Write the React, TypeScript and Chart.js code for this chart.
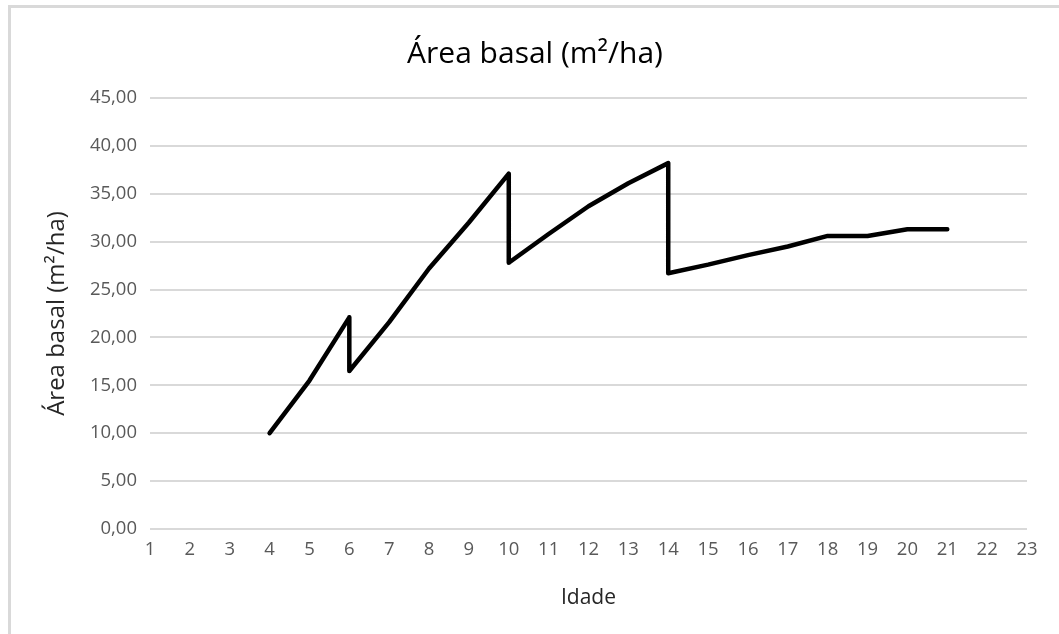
import React, { useEffect, useRef } from "react";
import { Chart, registerables } from "chart.js";

Chart.register(...registerables);

const idade = [4, 5, 6, 6, 7, 8, 9, 10, 10, 11, 12, 13, 14, 14, 15, 16, 17, 18, 19, 20, 21];
const areaBasal = [10.0, 15.5, 22.1, 16.5, 21.6, 27.2, 32.0, 37.1, 27.8, 30.8, 33.7, 36.1, 38.2, 26.7, 27.6, 28.6, 29.5, 30.6, 30.6, 31.3, 31.3];
const chartTitle = "Área basal (m²/ha)";
const xTitle = "Idade";
const yTitle = "Área basal (m²/ha)";

const FONT = "'Open Sans', sans-serif";

const centeredTitle = {
  id: "centeredTitle",
  afterDraw(chart: any) {
    const ctx = chart.ctx;
    ctx.save();
    ctx.font = `normal 30px ${FONT}`;
    ctx.fillStyle = "#000000";
    ctx.textAlign = "center";
    ctx.textBaseline = "middle";
    ctx.fillText(chartTitle, chart.width / 2, 46);
    ctx.restore();
  },
};

export default function App() {
  const ref = useRef<HTMLCanvasElement | null>(null);

  useEffect(() => {
    if (!ref.current) return;
    const chart = new Chart(ref.current, {
      type: "line",
      data: {
        datasets: [
          {
            data: idade.map((x, i) => ({ x, y: areaBasal[i] })),
            borderColor: "#000000",
            backgroundColor: "#000000",
            borderWidth: 4.5,
            borderJoinStyle: "round",
            borderCapStyle: "round",
            pointRadius: 0,
            tension: 0,
            fill: false,
          },
        ],
      },
      plugins: [centeredTitle],
      options: {
        animation: false,
        responsive: false,
        maintainAspectRatio: false,
        layout: { padding: { left: 0, right: 32, top: 90, bottom: 0 } },
        plugins: {
          legend: { display: false },
          tooltip: { enabled: false },
          title: { display: false },
        },
        scales: {
          x: {
            type: "linear",
            min: 1,
            max: 23,
            grid: { display: false, drawTicks: false },
            border: { display: false },
            ticks: {
              stepSize: 1,
              color: "#595959",
              padding: 10,
              font: { family: FONT, size: 18.5 },
            },
            title: {
              display: true,
              text: xTitle,
              color: "#262626",
              font: { family: FONT, size: 21 },
              padding: { top: 0, bottom: 23 },
            },
            afterFit: (s: any) => {
              s.height = 105;
            },
          },
          y: {
            type: "linear",
            min: 0,
            max: 45,
            grid: { color: "#d9d9d9", lineWidth: 2, drawTicks: false },
            border: { display: false },
            ticks: {
              stepSize: 5,
              color: "#595959",
              padding: 13,
              font: { family: FONT, size: 18.5 },
              callback: (v: any) => Number(v).toFixed(2).replace(".", ","),
            },
            title: {
              display: true,
              text: yTitle,
              color: "#262626",
              font: { family: FONT, size: 24 },
              padding: { top: 32, bottom: 0 },
            },
            afterFit: (s: any) => {
              s.width = 139;
            },
          },
        },
      },
    });
    return () => chart.destroy();
  }, []);

  return (
    <div style={{ position: "fixed", left: 0, top: 0, width: 1059, height: 634, background: "#fff", overflow: "hidden" }}>
      <div
        style={{
          position: "absolute",
          left: 8,
          top: 5,
          width: 1100,
          height: 700,
          borderLeft: "3px solid #d9d9d9",
          borderTop: "3px solid #d9d9d9",
        }}
      />
      <canvas ref={ref} width={1048} height={626} style={{ position: "absolute", left: 11, top: 8, width: 1048, height: 626 }} />
    </div>
  );
}
